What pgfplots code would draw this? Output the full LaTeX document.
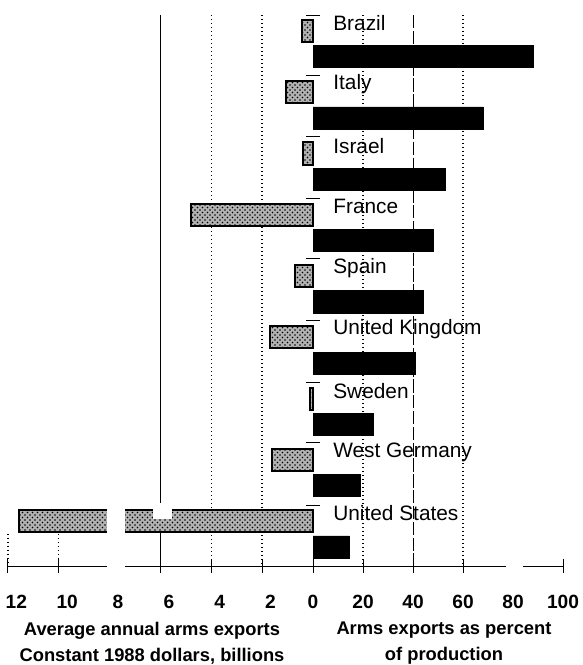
\documentclass[border=0pt]{standalone}
\usepackage{fontspec}
\setmainfont{Liberation Sans}
\usepackage{pgfplots}
\usepackage{pgfplotstable}
\pgfplotsset{compat=1.18}
\usetikzlibrary{patterns}

% y = country row (0 = top), exp = billions of 1988 dollars, pct = percent of production
\pgfplotstableread{
y  exp   pct
0  0.45  88
1  1.05  68
2  0.40  53
3  4.80  48
4  0.70  44
5  1.70  41
6  0.10  24
7  1.60  19
8  11.55 14.5
}\arms

\tikzset{cname/.style={anchor=west, inner sep=0pt, font=\fontsize{12.5}{14}\selectfont},
  gdot/.style={line width=0.8pt, dash pattern=on 0.8pt off 1.6pt}}

\begin{document}
\begin{tikzpicture}
\path[use as bounding box] (0,0) rectangle (349.8pt,399pt);
\pgfplotsset{every axis/.append style={scale only axis, height=330.6pt,
  ymin=-0.26, ymax=8.73, y dir=reverse, tick align=center,
  major tick length=8pt, tick style={black, semithick},
  x axis line style={-, black},
  xticklabel style={font=\bfseries\fontsize{11.5}{13}\selectfont, yshift=-10pt},
  /pgf/number format/assume math mode=true}}

\begin{axis}[at={(4.8pt,59.4pt)}, anchor=south west, width=183pt,
  xmin=0, xmax=12, x dir=reverse,
  axis x line*=bottom, axis y line=none,
  xtick={2,4,...,12}, xticklabel style={xshift=5pt}, clip=false]
\draw[gdot] (axis cs:2,-0.26) -- (axis cs:2,8.73);
\draw[gdot] (axis cs:4,-0.26) -- (axis cs:4,8.73);
\draw (axis cs:6,-0.26) -- (axis cs:6,8.73);
\draw[gdot] (axis cs:10,8.2) -- (axis cs:10,8.73);
\draw[gdot] (axis cs:12,8.2) -- (axis cs:12,8.73);
\addplot[xbar, bar width=0.36, bar shift=0pt, draw=black, line width=1.2pt,
  fill=black!30, postaction={pattern=crosshatch dots, pattern color=black}]
  table[x=exp, y=y] {\arms};
\fill[white] (axis cs:8.1,7.74) rectangle (axis cs:7.4,8.85);
\fill[white] (axis cs:6.3,7.7) rectangle (axis cs:5.55,7.97);
\end{axis}

\begin{axis}[at={(187.8pt,59.4pt)}, anchor=south west, width=150pt,
  xmin=0, xmax=100,
  axis x line*=bottom, axis y line*=left, y axis line style={draw=none},
  ytick={-0.26,0.72,1.73,2.73,3.72,4.73,5.73,6.71,7.74}, yticklabels={},
  xtick={0,20,...,100}, clip=false]
\draw[gdot] (axis cs:20,-0.26) -- (axis cs:20,8.73);
\draw[line width=0.6pt, dash pattern=on 8pt off 1.5pt] (axis cs:40,-0.26) -- (axis cs:40,8.73);
\draw[gdot] (axis cs:60,-0.26) -- (axis cs:60,8.73);
\addplot[xbar, bar width=0.36, bar shift=0pt, fill=black, draw=black]
  table[x=pct, y expr=\thisrow{y}+0.42] {\arms};
\node[cname] at (axis cs:8,-0.13) {Brazil};
\node[cname] at (axis cs:8,0.87) {Italy};
\node[cname] at (axis cs:8,1.87) {Israel};
\node[cname] at (axis cs:8,2.87) {France};
\node[cname] at (axis cs:8,3.87) {Spain};
\node[cname] at (axis cs:8,4.87) {United Kingdom};
\node[cname] at (axis cs:8,5.87) {Sweden};
\node[cname] at (axis cs:8,6.87) {West Germany};
\node[cname] at (axis cs:8,7.87) {United States};
\fill[white] (axis cs:77,8.6) rectangle (axis cs:84,8.85);
\end{axis}

\node[font=\bfseries\fontsize{11}{15.6}\selectfont, align=center] at (91.2pt,13.2pt)
  {Average annual arms exports\\Constant 1988 dollars, billions};
\node[font=\bfseries\fontsize{11}{15.6}\selectfont, align=center] at (266.4pt,13.2pt)
  {Arms exports as percent\\of production};
\end{tikzpicture}
\end{document}
